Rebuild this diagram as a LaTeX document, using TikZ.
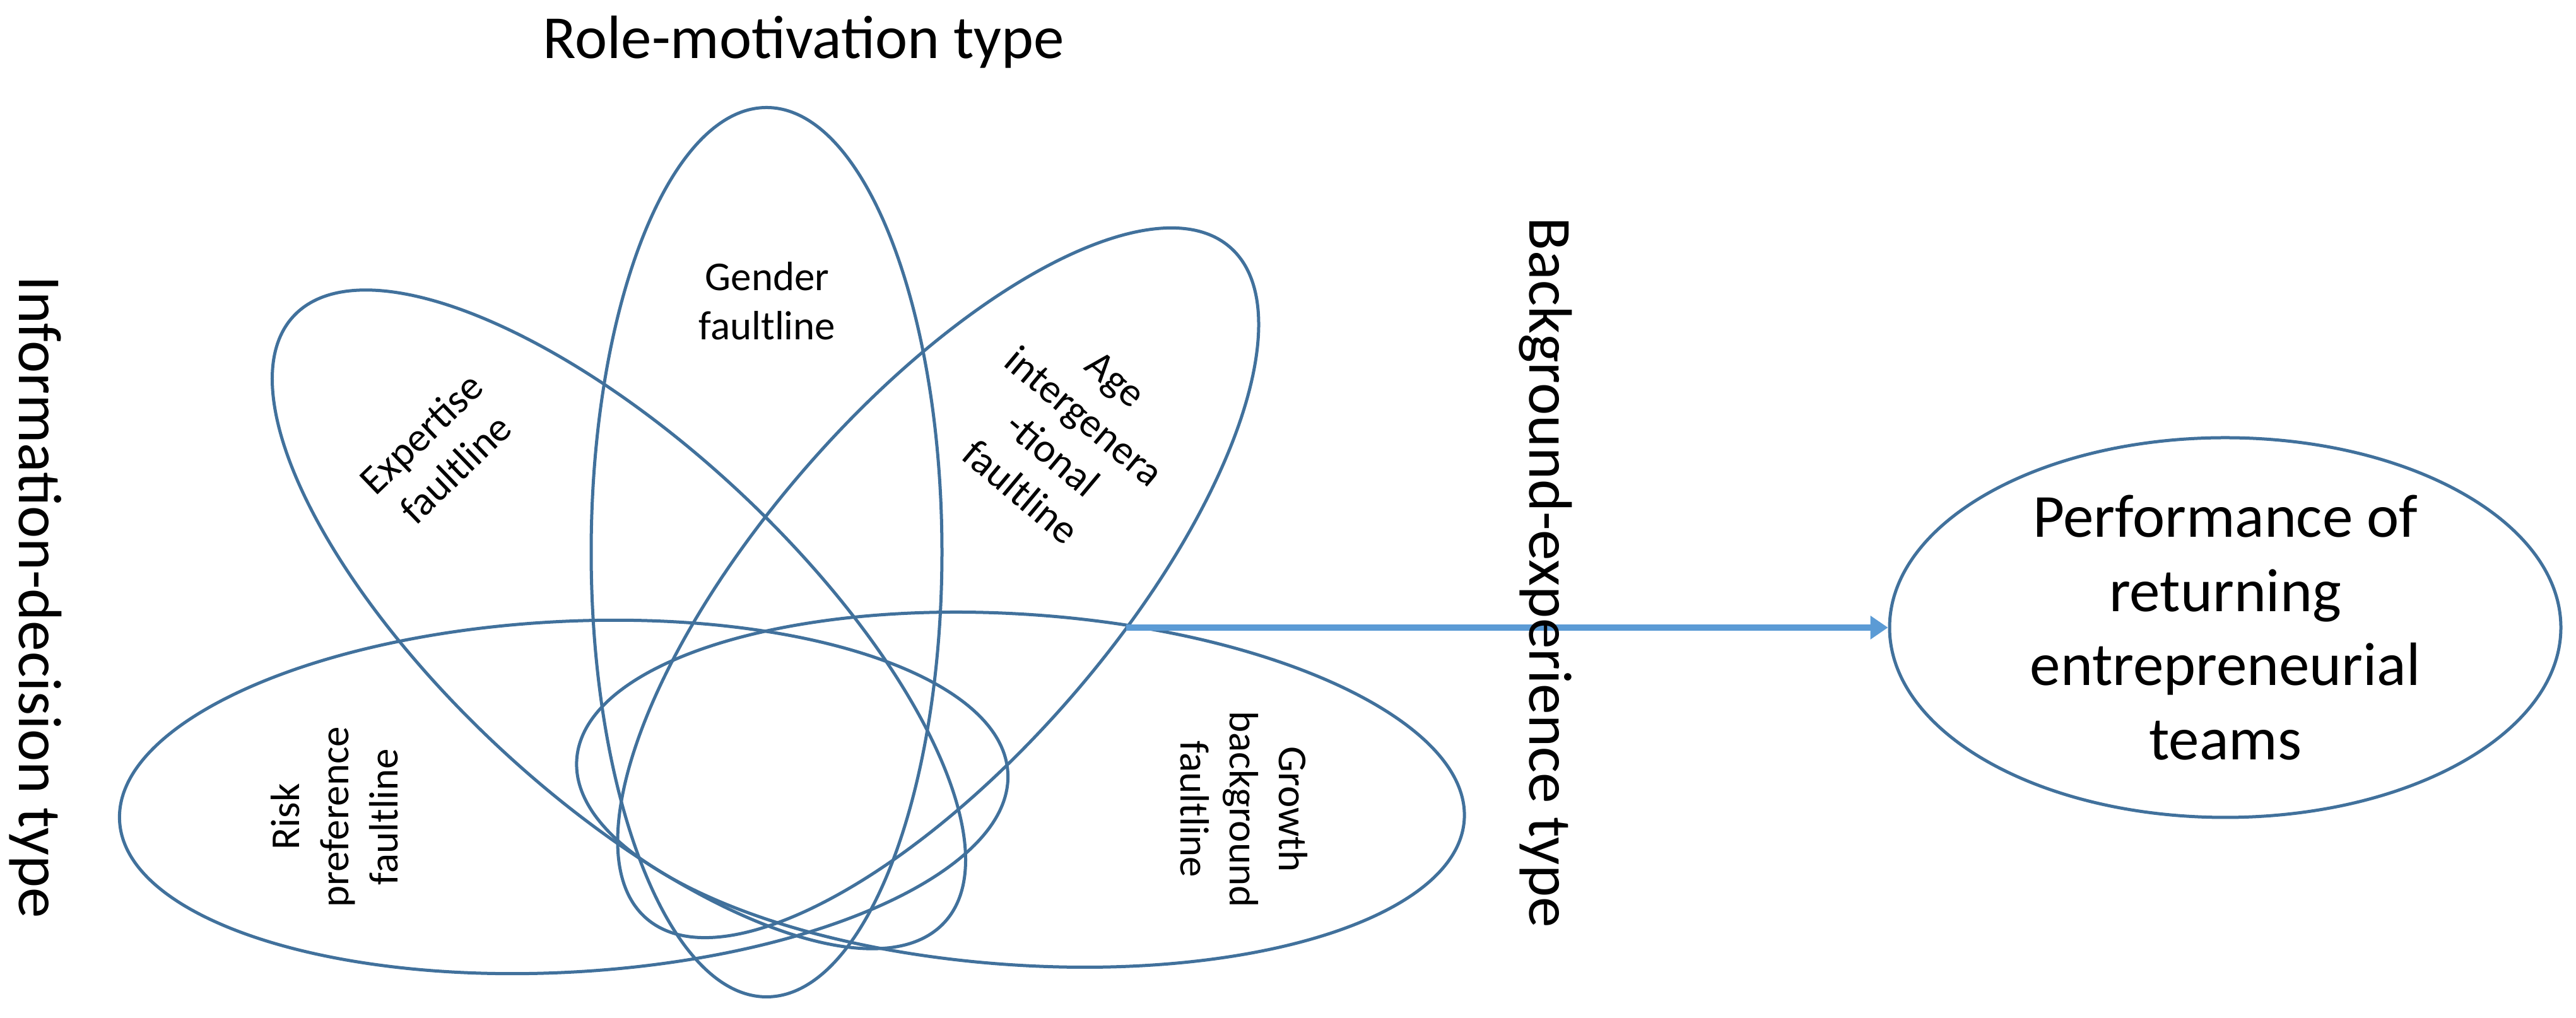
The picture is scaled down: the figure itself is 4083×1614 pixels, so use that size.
\documentclass[tikz,border=0pt]{standalone}
\usepackage{fontspec}
\setmainfont{Carlito}
\usetikzlibrary{shapes.geometric,arrows.meta}
\definecolor{petalblue}{HTML}{41719C}
\definecolor{arrowblue}{HTML}{5B9BD5}
\tikzset{
  petal/.style={draw=petalblue, line width=1.25pt, ellipse, inner sep=0pt,
    minimum width=352.5pt, minimum height=139pt},
  biglabel/.style={font=\fontsize{24.25}{29.4}\selectfont, inner sep=0pt},
  smalllabel/.style={font=\fontsize{16.25}{19.5}\selectfont, align=center, inner sep=0pt},
  outcome/.style={draw=petalblue, line width=1.25pt, ellipse, inner sep=0pt,
    minimum width=266pt, minimum height=150.5pt, align=center},
  flow/.style={draw=arrowblue, line width=2.4pt, -{Triangle[length=7pt,width=9pt]}}
}
\begin{document}
\begin{tikzpicture}[x=0.25pt,y=0.25pt]
\useasboundingbox (0,0) rectangle (4083,1614);
% five faultline ellipses
\node[petal, rotate=3.1]  (risk)      at (893.5,350.5) {};
\node[petal, rotate=-3.9] (growth)    at (1617.5,362) {};
\node[petal, rotate=90]   (gender)    at (1215,738.5) {};
\node[petal, rotate=-43]  (expertise) at (981,632) {};
\node[petal, rotate=49]   (age)       at (1487,690) {};
% outcome
\node[outcome, biglabel] (perf) at (3527,619)
  {Performance of\\returning\\entrepreneurial\\teams};
\coordinate (start) at (1785,619);
\draw[flow] (start) -- (perf.west);
% type titles
\node[biglabel, anchor=base] (role) at (1274,1521) {Role-motivation type};
\node[biglabel, rotate=-90, anchor=base] (info) at (31,667) {Information-decision type};
\node[biglabel, rotate=-90, anchor=base] (bg) at (2424,706) {Background-experience type};
% faultline labels
\node[smalllabel] (genderlbl) at (1216,1136.5) {Gender\\faultline};
\node[smalllabel, rotate=44] (expertlbl) at (694.5,899) {Expertise\\faultline};
\node[smalllabel, rotate=-40] (agelbl) at (1693,923) {Age\\intergenera\\-tional\\faultline};
\node[smalllabel, rotate=90] (risklbl) at (530,319) {Risk\\preference\\faultline};
\node[smalllabel, rotate=-90] (growthlbl) at (1972,331) {Growth\\background\\faultline};
\end{tikzpicture}
\end{document}
